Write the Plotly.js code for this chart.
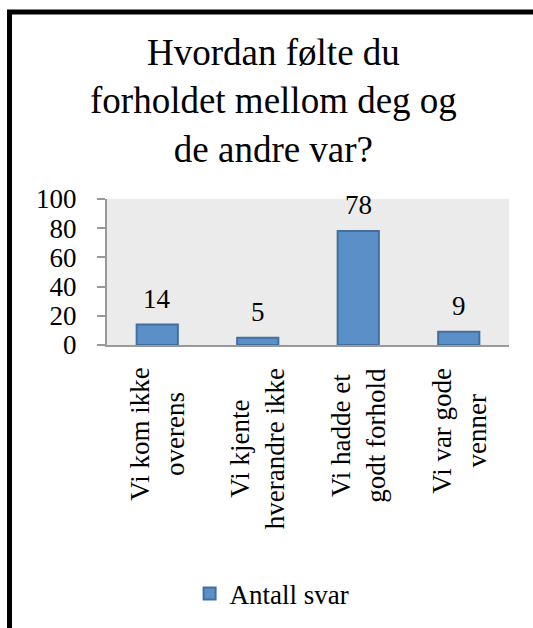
<!DOCTYPE html>
<html>
<head>
<meta charset="utf-8">
<script src="https://cdn.plot.ly/plotly-3.0.1.min.js"></script>
<style>
html,body{margin:0;padding:0;background:#fff;}
#chart{width:533px;height:628px;}
</style>
</head>
<body>
<div id="chart"></div>
<script>
var categories = ['Vi kom ikke overens', 'Vi kjente hverandre ikke', 'Vi hadde et godt forhold', 'Vi var gode venner'];
var tickLabels = ['Vi kom ikke<br>overens', 'Vi kjente<br>hverandre ikke', 'Vi hadde et<br>godt forhold', 'Vi var gode<br>venner'];
var values = [14, 5, 78, 9];
var seriesName = 'Antall svar';
var titleText = 'Hvordan følte du<br>forholdet mellom deg og<br>de andre var?';
var yTicks = [0, 20, 40, 60, 80, 100];

var FONT = 'Liberation Serif';
var INK = '#000000';
var FS = 27;

var trace = {
  type: 'bar',
  x: categories,
  y: values,
  name: seriesName,
  marker: {color: '#5b8fc8', line: {color: '#41709f', width: 2}},
  showlegend: true,
  hoverinfo: 'none'
};

var annotations = [];
for (var i = 0; i < categories.length; i++) {
  annotations.push({
    x: categories[i], y: values[i], xref: 'x', yref: 'y',
    text: String(values[i]), showarrow: false,
    yanchor: 'bottom', yshift: 9,
    font: {family: FONT, size: FS, color: INK}
  });
  annotations.push({
    x: categories[i], y: 0, xref: 'x', yref: 'paper',
    text: tickLabels[i], showarrow: false, textangle: -90,
    align: 'center', yanchor: 'top', yshift: -21,
    font: {family: FONT, size: FS, color: INK}
  });
}

var layout = {
  width: 533, height: 628,
  paper_bgcolor: '#ffffff',
  plot_bgcolor: '#ebebeb',
  margin: {l: 107, r: 24, t: 199, b: 283, autoexpand: false},
  font: {family: FONT, size: FS, color: INK},
  title: {
    text: titleText,
    font: {family: FONT, size: 37, color: INK},
    x: 0.513, xanchor: 'center',
    y: 0.896, yanchor: 'top', yref: 'container'
  },
  bargap: 0.59,
  xaxis: {
    type: 'category',
    showticklabels: false,
    showline: true, linecolor: '#999999', linewidth: 2,
    ticks: '', showgrid: false, zeroline: false,
    fixedrange: true
  },
  yaxis: {
    range: [0, 100],
    tickvals: yTicks,
    ticks: 'outside', ticklen: 8, tickwidth: 2, tickcolor: '#999999',
    showline: true, linecolor: '#999999', linewidth: 2,
    showgrid: false, zeroline: false,
    ticklabelstandoff: 15,
    tickfont: {family: FONT, size: FS, color: INK},
    fixedrange: true
  },
  showlegend: true,
  legend: {
    orientation: 'h',
    x: 0.2055, xanchor: 'left',
    y: -1.705, yanchor: 'middle',
    font: {family: FONT, size: FS, color: INK},
    bgcolor: 'rgba(0,0,0,0)'
  },
  annotations: annotations,
  shapes: [{
    type: 'rect', xref: 'paper', yref: 'paper',
    x0: -0.2425, x1: 1.5, y0: -5, y1: 2.281,
    line: {color: '#000000', width: 5},
    fillcolor: 'rgba(0,0,0,0)',
    layer: 'above'
  }]
};

Plotly.newPlot('chart', [trace], layout, {displayModeBar: false});
</script>
</body>
</html>
